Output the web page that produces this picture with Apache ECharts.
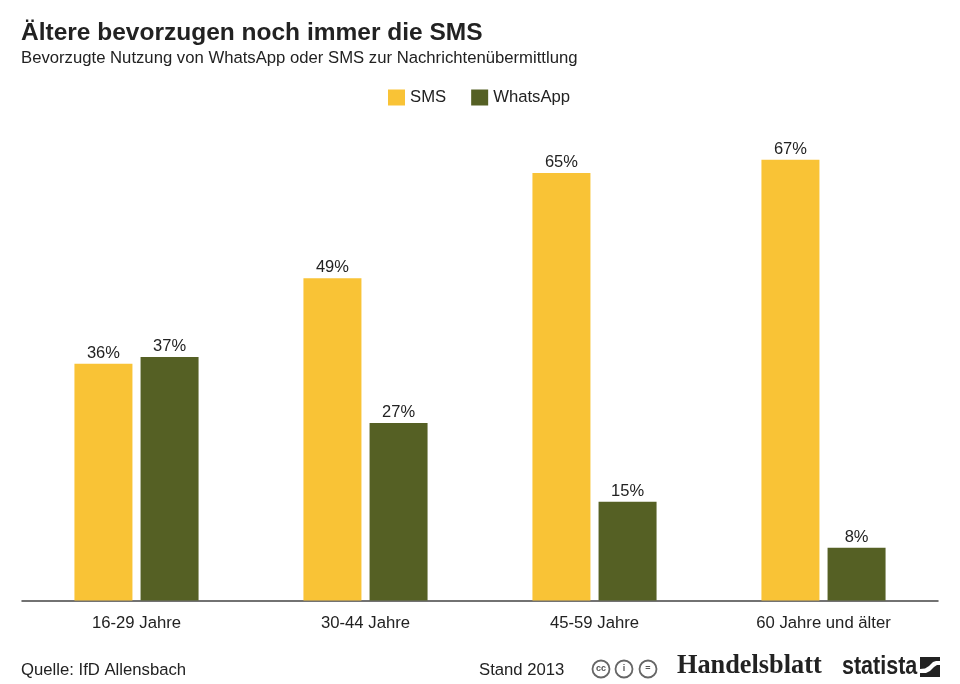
<!DOCTYPE html>
<html>
<head>
<meta charset="utf-8">
<script src="https://cdn.jsdelivr.net/npm/echarts@6/dist/echarts.min.js"></script>
<style>
html, body { margin: 0; padding: 0; background: #fff; }
#chart { width: 960px; height: 684px; }
</style>
</head>
<body>
<div id="chart"></div>
<script>
var categories = ['16-29 Jahre', '30-44 Jahre', '45-59 Jahre', '60 Jahre und älter'];
var smsValues = [36, 49, 65, 67];
var whatsAppValues = [37, 27, 15, 8];

var FONT = '"Liberation Sans", Arial, sans-serif';
var TEXT = '#222222';

var myChart = echarts.init(document.getElementById('chart'), null, { renderer: 'canvas' });

function barSeries(name, values, color) {
    return {
        name: name,
        type: 'bar',
        data: values,
        barWidth: 58,
        barGap: '14%',
        itemStyle: { color: color },
        label: {
            show: true,
            position: 'top',
            distance: 2,
            formatter: '{c}%',
            color: TEXT,
            fontFamily: FONT,
            fontSize: 16.5
        }
    };
}

function ccIcon(x, content) {
    return {
        type: 'group',
        x: x,
        y: 669,
        children: [
            { type: 'circle', shape: { cx: 0, cy: 0, r: 8.5 }, style: { fill: '#fff', stroke: '#666', lineWidth: 1.8 } },
            { type: 'text', style: { text: content, x: 0, y: 0, align: 'center', verticalAlign: 'middle', font: 'bold 9px ' + FONT, fill: '#555' } }
        ]
    };
}

myChart.setOption({
    backgroundColor: '#ffffff',
    animation: false,
    title: [
        {
            text: 'Ältere bevorzugen noch immer die SMS',
            left: 16, top: 16,
            textStyle: { fontFamily: FONT, fontSize: 24.5, fontWeight: 'bold', color: TEXT }
        },
        {
            text: 'Bevorzugte Nutzung von WhatsApp oder SMS zur Nachrichtenübermittlung',
            left: 16, top: 45,
            textStyle: { fontFamily: FONT, fontSize: 16.7, fontWeight: 'normal', color: TEXT }
        }
    ],
    legend: {
        data: ['SMS', 'WhatsApp'],
        left: 383, top: 84,
        icon: 'rect',
        itemWidth: 17, itemHeight: 16,
        itemGap: 25,
        textStyle: { fontFamily: FONT, fontSize: 16.7, color: TEXT }
    },
    grid: { left: 22, right: 22, top: 140, bottom: 83.5 },
    xAxis: {
        type: 'category',
        data: categories,
        axisLine: { lineStyle: { color: '#444444', width: 1.5 } },
        axisTick: { show: false },
        axisLabel: { color: TEXT, fontFamily: FONT, fontSize: 16.7, margin: 14 }
    },
    yAxis: { type: 'value', min: 0, max: 70, show: false, splitLine: { show: false } },
    series: [
        barSeries('SMS', smsValues, '#f9c336'),
        barSeries('WhatsApp', whatsAppValues, '#556024')
    ],
    graphic: [
        { type: 'text', style: { text: 'Quelle: IfD Allensbach', x: 21, y: 662, font: '16.7px ' + FONT, fill: TEXT } },
        { type: 'text', style: { text: 'Stand 2013', x: 479, y: 662, font: '16.7px ' + FONT, fill: TEXT } },
        ccIcon(601, 'cc'),
        ccIcon(624, 'i'),
        ccIcon(648, '='),
        { type: 'text', style: { text: 'Handelsblatt', x: 677, y: 653, font: 'bold 26.3px "Liberation Serif", serif', fill: '#222' } },
        { type: 'text', x: 842, y: 655, scaleX: 0.86, style: { text: 'statista', x: 0, y: 0, font: 'bold 25px "Liberation Sans", sans-serif', fill: '#222' } },
        { type: 'rect', shape: { x: 920, y: 657, width: 20, height: 20 }, style: { fill: '#222' } },
        { type: 'polygon', shape: { points: [[920, 669], [925, 668.5], [929, 666], [933, 662], [936, 661], [940, 661], [940, 665], [937, 665], [934, 667], [930, 671], [926, 673], [920, 673]] }, style: { fill: '#fff' } }
    ]
});

window.addEventListener('resize', function () {
    myChart.resize();
});
</script>
</body>
</html>
